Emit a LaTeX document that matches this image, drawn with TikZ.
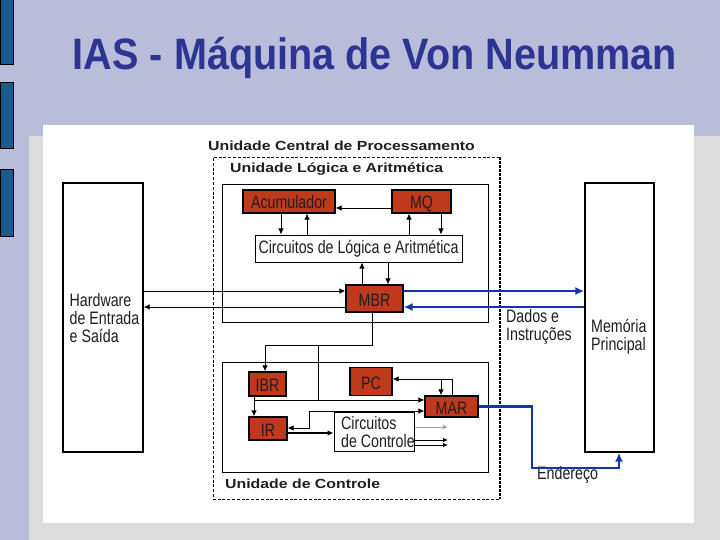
\documentclass[tikz,border=0pt]{standalone}
\usepackage{fontspec}
\setmainfont{Liberation Sans}
\usetikzlibrary{arrows.meta}
\newfontfamily\labfont[FakeStretch=0.79]{Liberation Sans}
\newfontfamily\boldlab[FakeStretch=1.2]{Liberation Sans}
\newfontfamily\titlefont[FakeStretch=0.9]{Liberation Sans}
\definecolor{bglav}{RGB}{185,189,217}
\definecolor{panelgrey}{RGB}{220,220,220}
\definecolor{barblue}{RGB}{26,90,140}
\definecolor{titleblue}{RGB}{46,52,146}
\definecolor{regred}{RGB}{192,57,27}
\definecolor{txtdark}{RGB}{30,30,36}
\definecolor{linkblue}{RGB}{22,52,170}
\definecolor{outgrey}{RGB}{160,160,160}
\tikzset{
  labtxt/.style={font=\labfont\fontsize{18}{18}\selectfont, text=txtdark},
  regbox/.style={draw=black, line width=1.3pt, fill=regred, inner sep=0pt, text height=15pt, text depth=0pt, labtxt},
  plainbox/.style={draw=black, line width=1pt, fill=white, inner sep=0pt},
  bigbox/.style={draw=black, line width=1.4pt, fill=white, inner sep=0pt},
  freetext/.style={labtxt, inner sep=0pt, align=left, anchor=west},
  headtxt/.style={font=\boldlab\bfseries\fontsize{13.2}{15}\selectfont, text=txtdark, inner sep=0pt, anchor=west},
  arr/.style={-{Latex[length=6pt,width=5.5pt]}, line width=0.8pt},
  twoarr/.style={{Latex[length=6pt,width=5.5pt]}-{Latex[length=6pt,width=5.5pt]}, line width=0.8pt},
  bluearr/.style={-{Latex[length=9pt,width=8pt]}, line width=2.2pt, draw=linkblue},
  smallarr/.style={-{Latex[length=5pt,width=4.5pt]}, line width=0.9pt},
}
\begin{document}
\begin{tikzpicture}[x=1pt,y=-1pt]
\useasboundingbox (0,0) rectangle (720,540);
% background
\fill[bglav] (0,0) rectangle (720,540);
\fill[panelgrey] (29,136) rectangle (720,540);
\fill[white] (43,125) rectangle (694,523);
\foreach \ya/\yb in {0/65,83/149,170/236}
  \draw[fill=barblue, draw=black, line width=1pt] (0,\ya) rectangle (13,\yb);
% title
\node[font=\titlefont\bfseries\fontsize{44}{48}\selectfont, text=titleblue, inner sep=0pt]
  (title) at (375,58) {IAS - Máquina de Von Neumman};

% CPU dashed frame
\draw[dashed, dash pattern=on 3pt off 1.8pt, line width=0.9pt] (500,157) -- (213,157) -- (213,499) -- (500,499);
\draw[dash pattern=on 3pt off 1pt, line width=1.8pt] (500,157) -- (500,499);
\node[headtxt] (cputitle) at (208,146) {Unidade Central de Processamento};

% big side boxes
\node[bigbox, minimum width=80, minimum height=269] (hw) at (103,317.5) {};
\node[freetext] (hwtxt) at (69.5,318) {Hardware\\de Entrada\\e Saída};
\node[bigbox, minimum width=69, minimum height=269] (mem) at (619.5,317.5) {};
\node[freetext] (memtxt) at (591,337) {Memória\\Principal};

% ULA
\node[plainbox, minimum width=266, minimum height=137] (ula) at (355,253.5) {};
\node[headtxt] (ulatitle) at (230,169) {Unidade Lógica e Aritmética};
\node[regbox, minimum width=92, minimum height=23] (acc) at (289,201.5) {Acumulador};
\node[regbox, minimum width=59, minimum height=23] (mq) at (421.5,201.5) {MQ};
\node[plainbox, minimum width=207, minimum height=27, labtxt] (cla) at (358.5,248.5) {Circuitos de Lógica e Aritmética};
\node[regbox, minimum width=57, minimum height=27] (mbr) at (374.5,298.5) {MBR};

% UC
\node[plainbox, minimum width=266, minimum height=110] (uc) at (355,417) {};
\node[headtxt] (uctitle) at (225,484) {Unidade de Controle};
\node[regbox, minimum width=37, minimum height=24] (ibr) at (267.5,384) {IBR};
\node[regbox, minimum width=42, minimum height=28] (pc) at (371,381.5) {PC};
\node[regbox, minimum width=53, minimum height=21] (mar) at (451.5,406.5) {MAR};
\node[regbox, minimum width=38, minimum height=23] (ir) at (268,428.5) {IR};
\node[plainbox, minimum width=80, minimum height=39] (cc) at (374,432) {};
\node[freetext] (cctxt) at (341,432.5) {Circuitos\\de Controle};

% other labels
\node[freetext] (dados) at (506,327) {Dados e\\Instruções};
\node[freetext] (ender) at (537,475) {Endereço};

% level coordinates
\coordinate (xA) at (281,0);
\coordinate (xB) at (307,0);
\coordinate (xC) at (409,0);
\coordinate (xD) at (441,0);
\coordinate (xE) at (362,0);
\coordinate (xF) at (388,0);
\coordinate (xG) at (372,0);
\coordinate (xH) at (265,0);
\coordinate (xI) at (318,0);
\coordinate (xJ) at (254,0);
\coordinate (xK) at (309,0);
\coordinate (xL) at (441,0);
\coordinate (xM) at (452,0);
\coordinate (xN) at (532,0);
\coordinate (xO) at (619,0);
\coordinate (xP) at (448,0);
\coordinate (yA) at (0,208);
\coordinate (yB) at (0,291);
\coordinate (yC) at (0,307);
\coordinate (yD) at (0,345);
\coordinate (yE) at (0,400);
\coordinate (yF) at (0,411);
\coordinate (yG) at (0,428);
\coordinate (yH) at (0,433);
\coordinate (yI) at (0,379);
\coordinate (yJ) at (0,427);
\coordinate (yK) at (0,440);
\coordinate (yL) at (0,445);
\coordinate (yM) at (0,468);

% ULA connectors
\draw[arr] (mq.west |- yA) -- (acc.east |- yA);
\draw[arr] (acc.south -| xA) -- (cla.north -| xA);
\draw[arr] (cla.north -| xB) -- (acc.south -| xB);
\draw[arr] (cla.north -| xC) -- (mq.south -| xC);
\draw[arr] (mq.south -| xD) -- (cla.north -| xD);
\draw[arr] (mbr.north -| xE) -- (cla.south -| xE);
\draw[arr] (cla.south -| xF) -- (mbr.north -| xF);
\draw[arr] (hw.east |- yB) -- (mbr.west |- yB);
\draw[arr] (mbr.west |- yC) -- (hw.east |- yC);

% memory connectors
\draw[bluearr] (mbr.east |- yB) -- (mem.west |- yB);
\draw[bluearr] (mem.west |- yC) -- (mbr.east |- yC);
\draw[bluearr] (mar.east) -| (xN |- yM) -| (mem.south -| xO);

% control connectors
\draw[arr] (mbr.south -| xG) |- (yD -| xH) -- (ibr.north -| xH);
\draw[line width=0.8pt] (yD -| xI) -- (yE -| xI);
\draw[arr] (ibr.south -| xJ) -- (ir.north -| xJ);
\draw[arr] (yE -| xJ) -- (mar.west |- yE);
\draw[twoarr] (ir.east |- yG) -| (xK |- yF) -- (mar.west |- yF);
\draw[arr, line width=1.8pt] (ir.east |- yH) -- (cc.west |- yH);
\draw[arr] (mar.north -| xM) |- (pc.east |- yI);
\draw[arr] (yI -| xL) -- (mar.north -| xL);
\draw[smallarr, draw=outgrey] (cc.east |- yJ) -- (xP |- yJ);
\draw[smallarr] (cc.east |- yK) -- (xP |- yK);
\draw[smallarr] (cc.east |- yL) -- (xP |- yL);
\end{tikzpicture}
\end{document}
